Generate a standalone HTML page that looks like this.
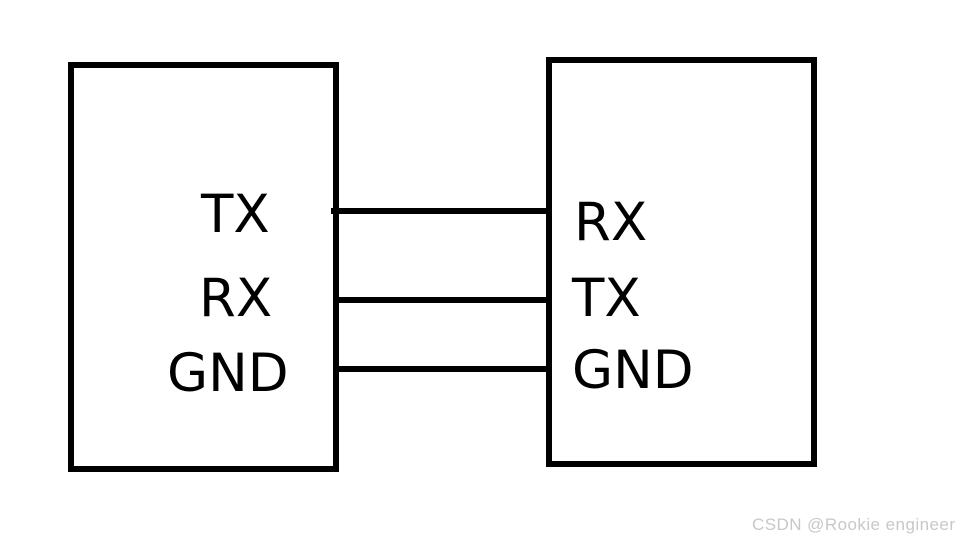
<!DOCTYPE html>
<html><head><style>
html,body{margin:0;padding:0;background:#fff;width:960px;height:542px;overflow:hidden}
</style></head><body>
<svg width="960" height="542" xmlns="http://www.w3.org/2000/svg">
<rect x="71" y="65" width="265" height="404" fill="none" stroke="#000" stroke-width="6"/>
<rect x="549" y="60" width="265" height="404" fill="none" stroke="#000" stroke-width="6"/>
<line x1="331" y1="211" x2="549" y2="211" stroke="#000" stroke-width="6"/>
<line x1="336" y1="300" x2="549" y2="300" stroke="#000" stroke-width="6"/>
<line x1="336" y1="369" x2="549" y2="369" stroke="#000" stroke-width="6"/>
<g font-family="DejaVu Sans, sans-serif" font-size="53" fill="#000">
<text x="201" y="232">TX</text>
<text x="199" y="316">RX</text>
<text x="167" y="391">GND</text>
<text x="574" y="240">RX</text>
<text x="572" y="316">TX</text>
<text x="572" y="388">GND</text>
</g>
<text x="752" y="530" font-family="Liberation Sans, sans-serif" font-size="17" fill="#c8c8c8" textLength="203">CSDN @Rookie engineer</text>
</svg>
</body></html>
